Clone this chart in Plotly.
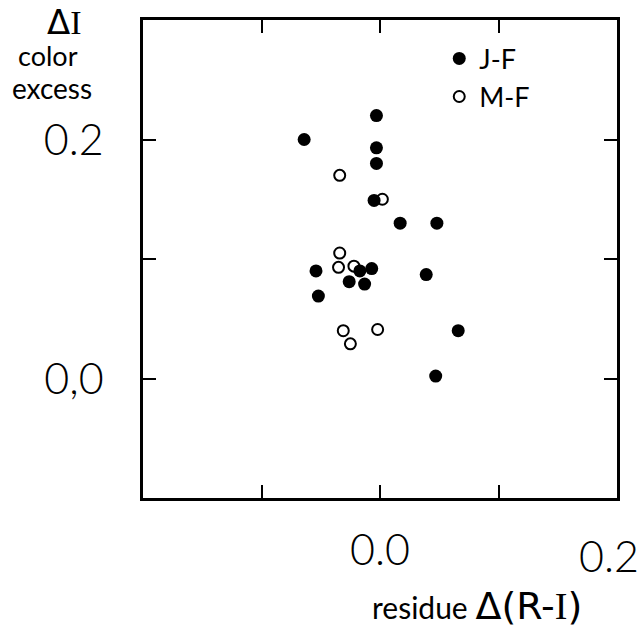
import plotly.graph_objects as go

# J-F (filled) and M-F (open) samples: residue Δ(R-I) vs colour excess ΔI
jf_x = [-0.003, -0.064, -0.003, -0.003, -0.005, 0.017, 0.048, -0.054, -0.017,
        -0.007, -0.026, -0.013, 0.039, -0.052, 0.066, 0.047]
jf_y = [0.220, 0.200, 0.193, 0.180, 0.149, 0.130, 0.130, 0.090, 0.090,
        0.092, 0.081, 0.079, 0.087, 0.069, 0.040, 0.002]
mf_x = [-0.034, 0.002, -0.034, -0.035, -0.022, -0.031, -0.025, -0.002]
mf_y = [0.170, 0.150, 0.105, 0.093, 0.094, 0.040, 0.029, 0.041]

x_tickvals = [-0.1, 0.0, 0.1, 0.2]
x_ticktext = ["", "0.0", "", ""]
x_edge_label = "0.2"
y_tickvals = [0.0, 0.1, 0.2]
y_ticktext = ["0,0", "", "0.2"]

FONT = "Lato"
WIDE = "DejaVu Sans"
SERIF = "Liberation Serif"

fig = go.Figure()
fig.add_trace(go.Scatter(x=jf_x, y=jf_y, mode="markers", name="J-F",
                         marker=dict(symbol="circle", size=13, color="black")))
fig.add_trace(go.Scatter(x=mf_x, y=mf_y, mode="markers", name="M-F",
                         marker=dict(symbol="circle-open", size=11, color="black",
                                     line=dict(width=2, color="black"))))

axis_common = dict(showline=True, mirror="ticks", linecolor="black", linewidth=2.5,
                   ticks="inside", ticklen=13, tickwidth=2, tickcolor="black",
                   showgrid=False, zeroline=False,
                   tickfont=dict(family=FONT, size=43, color="black", weight=300))

fig.update_xaxes(range=[-0.2, 0.2], tickvals=x_tickvals, ticktext=x_ticktext,
                 ticklabelstandoff=13, **axis_common)
fig.update_yaxes(range=[-0.1, 0.3], tickvals=y_tickvals, ticktext=y_ticktext,
                 ticklabelstandoff=28, **axis_common)

fig.update_layout(
    width=642, height=628,
    margin=dict(l=143, r=25, t=20, b=130),
    paper_bgcolor="white", plot_bgcolor="white",
    showlegend=True,
    legend=dict(x=0.625, y=0.97, xanchor="left", yanchor="top",
                bgcolor="rgba(0,0,0,0)", borderwidth=0,
                font=dict(family=FONT, size=27, color="black", weight=400),
                tracegroupgap=0, itemwidth=30),
    annotations=[
        dict(text=x_edge_label, xref="paper", yref="paper", x=1.0, y=0,
             xanchor="right", yanchor="top", xshift=24, yshift=-30, showarrow=False,
             font=dict(family=FONT, size=43, color="black", weight=300)),
        dict(text=f"Δ<span style='font-family:{SERIF}'>I</span>",
             xref="paper", yref="paper", x=-0.165, y=0.995,
             xanchor="center", yanchor="middle", showarrow=False,
             font=dict(family=WIDE, size=34, color="black", weight=400)),
        dict(text="color", xref="paper", yref="paper", x=-0.2, y=0.925,
             xanchor="center", yanchor="middle", showarrow=False,
             font=dict(family=FONT, size=27, color="black", weight=400)),
        dict(text="excess", xref="paper", yref="paper", x=-0.192, y=0.858,
             xanchor="center", yanchor="middle", showarrow=False,
             font=dict(family=FONT, size=28, color="black", weight=400)),
        dict(text=("residue <span style='font-family:DejaVu Sans;font-size:38px'>"
                   f"Δ(R-<span style='font-family:{SERIF}'>I</span>)</span>"),
             xref="paper", yref="paper", x=0.705, y=-0.226,
             xanchor="center", yanchor="middle", showarrow=False,
             font=dict(family=FONT, size=30, color="black", weight=400)),
    ],
)

fig.write_html("out.html")
